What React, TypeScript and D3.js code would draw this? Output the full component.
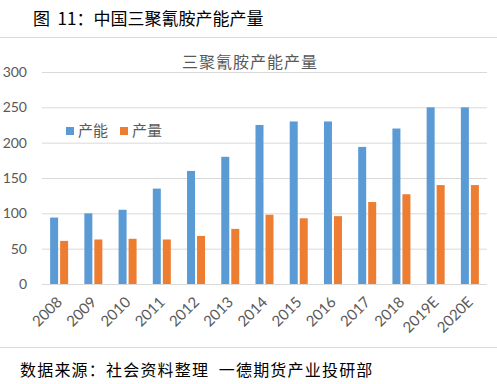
import React, { useEffect, useRef } from "react";
import * as d3 from "d3";

const years = ["2008", "2009", "2010", "2011", "2012", "2013", "2014", "2015", "2016", "2017", "2018", "2019E", "2020E"];
const capacity = [94, 100, 105, 135, 160, 180, 225, 230, 230, 194, 220, 250, 250];
const output = [61, 63, 64, 63, 68, 78, 98, 93, 96, 116, 127, 140, 140];
const yTicks = [0, 50, 100, 150, 200, 250, 300];
const seriesNames = ["产能", "产量"];
const colors = ["#5B9BD5", "#ED7D31"];

const W = 497;
const H = 384;

export default function App() {
  const ref = useRef<SVGSVGElement>(null);

  useEffect(() => {
    const svg = d3.select(ref.current);
    svg.selectAll("*").remove();

    const cjk = "'Noto Sans CJK SC', sans-serif";
    const num = "Lato, 'Noto Sans', sans-serif";

    // header
    svg.append("text").attr("x", 33).attr("y", 25).attr("font-family", cjk)
      .attr("font-size", 17).attr("fill", "#000")
      .text("图\u00A0\u00A011：中国三聚氰胺产能产量");
    svg.append("line").attr("x1", 0).attr("x2", W).attr("y1", 37.5).attr("y2", 37.5)
      .attr("stroke", "#d9d9d9");

    const margin = { left: 42, right: 10 };
    const x = d3.scaleBand().domain(years).range([margin.left, W - margin.right]);
    const y = d3.scaleLinear().domain([0, 300]).range([284, 72]);

    // grid
    svg.append("g").selectAll("line").data(yTicks).enter().append("line")
      .attr("x1", margin.left).attr("x2", W - margin.right)
      .attr("y1", (d) => y(d) + 0.5).attr("y2", (d) => y(d) + 0.5)
      .attr("stroke", "#d9d9d9").attr("stroke-width", 1);

    svg.append("g").selectAll("text").data(yTicks).enter().append("text")
      .attr("x", 27).attr("y", (d) => y(d)).attr("dy", "0.35em")
      .attr("text-anchor", "end").attr("font-family", num).attr("font-size", 14)
      .attr("fill", "#595959").text((d) => d);

    // chart title
    svg.append("text").attr("x", 250).attr("y", 68)
      .attr("text-anchor", "middle").attr("font-family", cjk).attr("font-size", 16)
      .attr("letter-spacing", 1).attr("fill", "#595959").text("三聚氰胺产能产量");

    const barW = 8;
    const gap = 2;
    const series = [capacity, output];
    series.forEach((vals, s) => {
      svg.append("g").selectAll("rect").data(vals).enter().append("rect")
        .attr("x", (d, i) => x(years[i])! + x.bandwidth() / 2 - barW - gap / 2 + s * (barW + gap))
        .attr("width", barW)
        .attr("y", (d) => y(d))
        .attr("height", (d) => y(0) - y(d))
        .attr("fill", colors[s]);
    });

    // x labels
    svg.append("g").selectAll("text").data(years).enter().append("text")
      .attr("transform", (d) => "translate(" + (x(d)! + x.bandwidth() / 2 + 4) + ",303) rotate(-45)")
      .attr("text-anchor", "end").attr("font-family", num).attr("font-size", 15)
      .attr("fill", "#595959").text((d) => d);

    // legend
    const legendX = [66, 120];
    seriesNames.forEach((name, s) => {
      svg.append("rect").attr("x", legendX[s]).attr("y", 127).attr("width", 8).attr("height", 8)
        .attr("fill", colors[s]);
      svg.append("text").attr("x", legendX[s] + 12).attr("y", 131).attr("dy", "0.35em")
        .attr("font-family", cjk).attr("font-size", 15).attr("fill", "#595959").text(name);
    });

    // footer
    svg.append("line").attr("x1", 0).attr("x2", W).attr("y1", 347.5).attr("y2", 347.5)
      .attr("stroke", "#d9d9d9");
    svg.append("text").attr("x", 20).attr("y", 376).attr("font-family", cjk)
      .attr("font-size", 16).attr("letter-spacing", 1.2).attr("fill", "#000")
      .text("数据来源：社会资料整理\u00A0\u00A0一德期货产业投研部");
  }, []);

  return (
    <div style={{ position: "absolute", left: 0, top: 0, background: "#fff" }}>
      <svg ref={ref} width={W} height={H}></svg>
    </div>
  );
}
